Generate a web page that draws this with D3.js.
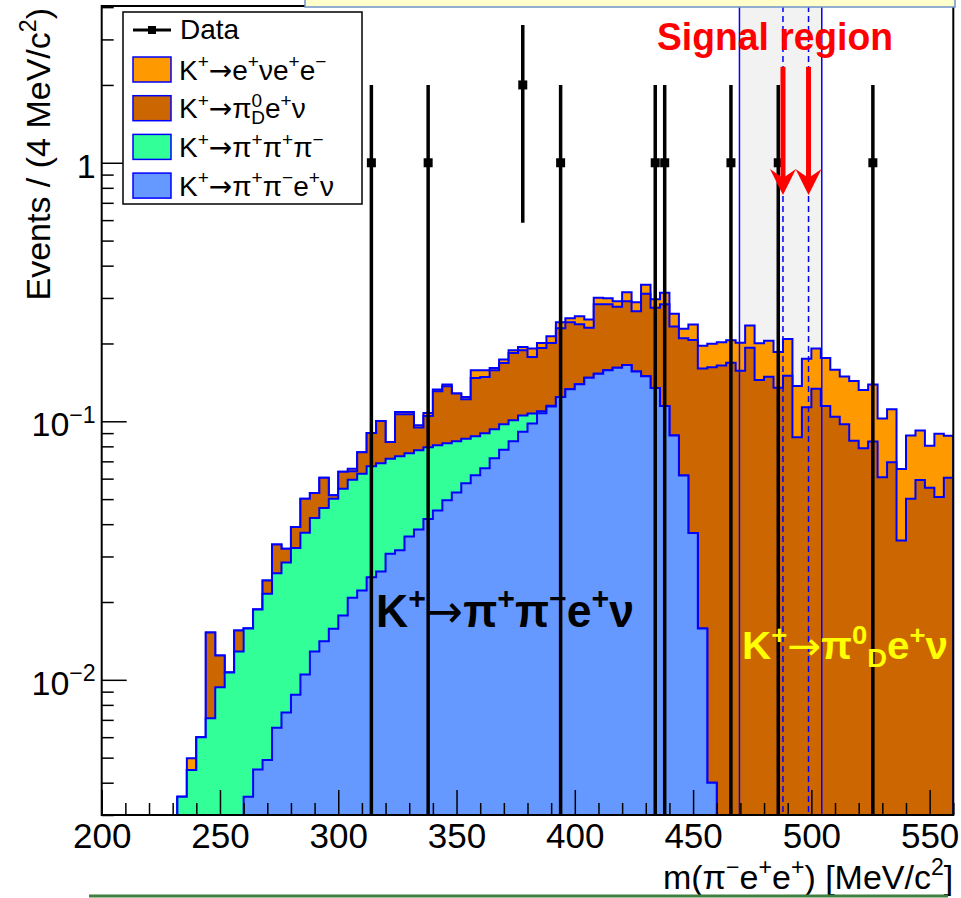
<!DOCTYPE html>
<html>
<head>
<meta charset="utf-8">
<script src="https://cdnjs.cloudflare.com/ajax/libs/d3/7.8.5/d3.min.js"></script>
<style>
  body { margin: 0; background: #fff; }
  svg { display: block; }
</style>
</head>
<body>
<script>
// binning of the stacked MC histograms (4 MeV/c2 bins)
const binStart = 232,
  binWidth = 4;
const binLo = d3.range(82).map((i) => binStart + i * binWidth);

// K+ -> pi+ pi- e+ nu
const seriesPiPiENu = [
  0, 0, 0, 0, 0, 0, 0,
  0.00353, 0.0045, 0.0049, 0.00652, 0.00747, 0.00875, 0.01048, 0.01287,
  0.01411, 0.01576, 0.01774, 0.02078, 0.02217, 0.02495, 0.02626, 0.03074,
  0.03168, 0.03587, 0.03818, 0.04193, 0.04522, 0.04945, 0.05309, 0.05754,
  0.06178, 0.06577, 0.07192, 0.07755, 0.08366, 0.09107, 0.09806, 0.1074, 0.1141,
  0.1241, 0.133, 0.139, 0.1474, 0.1527, 0.1575, 0.1611, 0.1651, 0.1557,
  0.1494, 0.1344, 0.1146, 0.0881, 0.0617, 0.037, 0.0158, 0.004,
  0, 0, 0, 0, 0, 0, 0, 0, 0, 0, 0, 0, 0, 0, 0, 0, 0, 0, 0, 0, 0, 0, 0, 0, 0,
];
// K+ -> pi+ pi+ pi-
const seriesK3Pi = [
  0.00353, 0.00448, 0.006, 0.0071, 0.00936, 0.01067, 0.01287,
  0.01227, 0.01422, 0.01663, 0.01934, 0.02098, 0.02357, 0.0266, 0.02936,
  0.03206, 0.03444, 0.03713, 0.03869, 0.04055, 0.04199, 0.04251, 0.04097,
  0.04151, 0.0393, 0.03902, 0.03735, 0.03549, 0.03272, 0.03057, 0.02799,
  0.02568, 0.02409, 0.02119, 0.01981, 0.01724, 0.01413, 0.00904, 0.0019, 0.0008,
  0, 0, 0, 0, 0, 0, 0, 0, 0, 0, 0, 0, 0, 0, 0, 0, 0,
  0, 0, 0, 0, 0, 0, 0, 0, 0, 0, 0, 0, 0, 0, 0, 0, 0, 0, 0, 0, 0, 0, 0, 0, 0,
];
// K+ -> pi0_D e+ nu
const seriesPi0D = [
  0, 0, 0, 0.00814, 0.00306, 0, 0.00265,
  0, 0, 0.00271, 0.00755, 0.0037, 0.00666, 0.01312, 0.01055,
  0.01436, 0.0015, 0.00899, 0.00455, 0.01314, 0.02317, 0.03153, 0.01147,
  0.03321, 0.03123, 0.01734, 0.02552, 0.04989, 0.05443, 0.04434, 0.03617,
  0.05964, 0.05854, 0.06439, 0.07074, 0.0829, 0.0831, 0.0703, 0.0826, 0.0861,
  0.105, 0.1086, 0.0984, 0.0827, 0.1311, 0.1263, 0.1164, 0.1264, 0.1109,
  0.1619, 0.1407, 0.169, 0.1445, 0.1479, 0.1694, 0.1444, 0.1578,
  0.1643, 0.1683, 0.157, 0.1924, 0.1445, 0.1486, 0.1348, 0.1499, 0.0867,
  0.1133, 0.1336, 0.1147, 0.1041, 0.0974, 0.0841, 0.0787, 0.0836, 0.0607,
  0.0694, 0.0346, 0.0502, 0.0593, 0.0553, 0.0509, 0.0605,
];
// K+ -> e+ nu e+ e-
const seriesENuEE = [
  0, 0.00049, 0, 0, 0, 0, 0,
  0, 0, 0, 0, 0, 0, 0, 0, 0, 0, 0, 0.00157, 0, 0, 0, 0,
  0.0022, 0.0022, 0.00196, 0.0029, 0.0021, 0.0021, 0, 0.0025,
  0.0104, 0.0091, 0.0033, 0.0052, 0.0045, 0.0056, 0.0137, 0.0089, 0.0123,
  0.0125, 0.0088, 0.0176, 0.0174, 0.0169, 0.0156, 0.014, 0.0243, 0.0223,
  0.0264, 0.0216, 0.0306, 0.0281, 0.0183, 0.0302, 0.0358, 0.0377,
  0.0377, 0.0374, 0.0443, 0.0421, 0.0557, 0.0565, 0.0507, 0.0584, 0.0501,
  0.0613, 0.0575, 0.061, 0.0543, 0.0517, 0.0591, 0.0533, 0.0553, 0.0418,
  0.0419, 0.0308, 0.0379, 0.0329, 0.0251, 0.0385, 0.0275,
];

// observed events
const dataMass = [314, 338, 378, 394, 434, 438, 466, 486, 526];
const dataCounts = [1, 1, 2, 1, 1, 1, 1, 1, 1];

// regions
const bandEdges = [469.6, 504.4];
const signalEdges = [488, 498.8];
const arrowTop = 2.35,
  arrowTip = 0.75;

// ticks
const xMajor = [200, 250, 300, 350, 400, 450, 500, 550];
const xMinor = d3.range(200, 561, 10).filter((v) => v % 50 !== 0);
const yMajor = [0.01, 0.1, 1];
const yMinor = [
  0.003, 0.004, 0.005, 0.006, 0.007, 0.008, 0.009,
  0.02, 0.03, 0.04, 0.05, 0.06, 0.07, 0.08, 0.09,
  0.2, 0.3, 0.4, 0.5, 0.6, 0.7, 0.8, 0.9, 2, 3, 4,
];

const keys = ["ppenu", "k3pi", "pi0d", "enee"];
const fills = { ppenu: "#6699ff", k3pi: "#33ff99", pi0d: "#cc6600", enee: "#ff9900" };
const outline = "#0000ff";

const width = 961,
  height = 898;

const x = d3.scaleLinear().domain([200, 560]).range([101.7, 953.3]);
const y = d3.scaleLog().domain([0.003, 4.04]).range([815, 6]);
const yb = y.range()[0];
const yc = (v) => (v > 0 ? y(v) : yb + 10);

const svg = d3
  .select("body")
  .append("svg")
  .attr("width", width)
  .attr("height", height)
  .style("font-family", "'Liberation Sans', Arial, Helvetica, sans-serif");

svg
  .append("clipPath")
  .attr("id", "plot")
  .append("rect")
  .attr("x", x.range()[0])
  .attr("y", y.range()[1])
  .attr("width", x.range()[1] - x.range()[0])
  .attr("height", yb - y.range()[1]);

// text with super/subscripts; "arr" parts get a wider arrow glyph
function rich(sel, parts, size) {
  let cur = 0;
  parts.forEach((p) => {
    const mode = p[1] || "";
    const t = mode === "sup" ? -0.4 * size : mode === "sub" ? 0.22 * size : 0;
    const ts = sel.append("tspan").text(p[0]).attr("dy", t - cur);
    if (mode === "sup" || mode === "sub") ts.attr("font-size", 0.68 * size);
    if (mode === "arr") ts.style("font-family", "'DejaVu Sans', sans-serif").attr("font-weight", "normal");
    if (p[2]) ts.attr("dx", p[2]);
    cur = t;
  });
  return sel;
}

// signal region band
svg
  .append("rect")
  .attr("x", x(bandEdges[0]))
  .attr("y", y.range()[1])
  .attr("width", x(bandEdges[1]) - x(bandEdges[0]))
  .attr("height", yb - y.range()[1])
  .attr("fill", "#f2f2f2");

// stacked histograms, drawn ROOT-like from the top sum down
const table = binLo.map((lo, i) => ({
  lo: lo,
  ppenu: seriesPiPiENu[i],
  k3pi: seriesK3Pi[i],
  pi0d: seriesPi0D[i],
  enee: seriesENuEE[i],
}));
const stacked = d3.stack().keys(keys)(table);

const hg = svg.append("g").attr("clip-path", "url(#plot)");
const area = d3
  .area()
  .curve(d3.curveStepAfter)
  .x((p) => p[0])
  .y0(yb + 10)
  .y1((p) => p[1]);
const line = d3.line().curve(d3.curveStepAfter);

stacked
  .slice()
  .reverse()
  .forEach((s) => {
    const tops = s.map((d) => d[1]);
    const idx = d3.range(tops.length).filter((i) => tops[i] > 1e-9);
    const first = idx[0],
      last = idx[idx.length - 1];
    const seg = d3.range(first, last + 1).map((i) => [x(binLo[i]), yc(tops[i])]);
    seg.push([x(binLo[last] + binWidth), yc(tops[last])]);
    hg.append("path").attr("d", area(seg)).attr("fill", fills[s.key]);
    const pts = [[seg[0][0], yb + 10]].concat(seg, [[seg[seg.length - 1][0], yb + 10]]);
    hg.append("path")
      .attr("d", line(pts))
      .attr("fill", "none")
      .attr("stroke", outline)
      .attr("stroke-width", 2);
  });

// region lines
svg
  .selectAll(".band")
  .data(bandEdges)
  .enter()
  .append("line")
  .attr("x1", (d) => x(d))
  .attr("x2", (d) => x(d))
  .attr("y1", y.range()[1])
  .attr("y2", yb)
  .attr("stroke", outline)
  .attr("stroke-width", 1.5);
svg
  .selectAll(".sig")
  .data(signalEdges)
  .enter()
  .append("line")
  .attr("x1", (d) => x(d))
  .attr("x2", (d) => x(d))
  .attr("y1", y.range()[1])
  .attr("y2", yb)
  .attr("stroke", outline)
  .attr("stroke-width", 1.5)
  .attr("stroke-dasharray", "6,4");

// data points with sqrt(N) errors
const dg = svg.append("g").attr("clip-path", "url(#plot)");
dataMass.forEach((m, i) => {
  const n = dataCounts[i],
    e = Math.sqrt(n);
  dg.append("line")
    .attr("x1", x(m))
    .attr("x2", x(m))
    .attr("y1", yc(n + e))
    .attr("y2", yc(n - e))
    .attr("stroke", "#000")
    .attr("stroke-width", 3.5);
  dg.append("rect")
    .attr("x", x(m) - 4.5)
    .attr("y", y(n) - 4.5)
    .attr("width", 9)
    .attr("height", 9)
    .attr("fill", "#000");
});

// axes
const gx = svg.append("g").attr("transform", `translate(0,${yb})`);
gx.call(d3.axisBottom(x).tickValues(xMajor).tickSize(-25).tickPadding(8).tickFormat(d3.format("d")));
gx.append("g").call(d3.axisBottom(x).tickValues(xMinor).tickSize(-12).tickFormat(""));
gx.selectAll(".domain").remove();
gx.selectAll("line").attr("stroke", "#000").attr("stroke-width", 1.5);
gx.selectAll("text").attr("font-size", 35).attr("fill", "#000").style("font-family", "'Liberation Sans', Arial, sans-serif");

const gy = svg.append("g").attr("transform", `translate(${x.range()[0]},0)`);
gy.call(d3.axisLeft(y).tickValues(yMajor).tickSize(-25).tickFormat(""));
gy.append("g").call(d3.axisLeft(y).tickValues(yMinor).tickSize(-12).tickFormat(""));
gy.selectAll(".domain").remove();
gy.selectAll("line").attr("stroke", "#000").attr("stroke-width", 1.5);

yMajor.forEach((v) => {
  const t = svg
    .append("text")
    .attr("x", x.range()[0] - 6)
    .attr("y", y(v) + 15)
    .attr("text-anchor", "end")
    .attr("font-size", 34);
  const k = Math.round(Math.log10(v));
  if (k === 0) t.text("1");
  else rich(t, [["10"], ["\u2212" + -k, "sup"]], 34);
});

svg
  .append("rect")
  .attr("x", x.range()[0])
  .attr("y", y.range()[1])
  .attr("width", x.range()[1] - x.range()[0])
  .attr("height", yb - y.range()[1])
  .attr("fill", "none")
  .attr("stroke", "#000")
  .attr("stroke-width", 2);

// axis titles
rich(
  svg.append("text").attr("x", x.range()[1]).attr("y", 889).attr("text-anchor", "end").attr("font-size", 34),
  [["m(\u03c0"], ["\u2212", "sup"], ["e"], ["+", "sup"], ["e"], ["+", "sup"], [") [MeV/c"], ["2", "sup"], ["]"]],
  34
);
rich(
  svg
    .append("text")
    .attr("transform", "translate(50,8) rotate(-90)")
    .attr("text-anchor", "end")
    .attr("font-size", 34),
  [["Events / (4 MeV/c"], ["2", "sup"], [")"]],
  34
);

// legend
const lg = svg.append("g");
lg.append("rect")
  .attr("x", 123)
  .attr("y", 12)
  .attr("width", 239)
  .attr("height", 192)
  .attr("fill", "#fff")
  .attr("stroke", "#000")
  .attr("stroke-width", 1.5);
lg.append("line").attr("x1", 133).attr("x2", 171).attr("y1", 30).attr("y2", 30).attr("stroke", "#000").attr("stroke-width", 3);
lg.append("rect").attr("x", 148).attr("y", 26).attr("width", 8).attr("height", 8).attr("fill", "#000");
lg.append("text").attr("x", 180).attr("y", 39).attr("font-size", 28).text("Data");

const legendRows = [
  { key: "enee", parts: [["K"], ["+", "sup"], ["\u2192", "arr"], ["e"], ["+", "sup"], ["\u03bde"], ["+", "sup"], ["e"], ["\u2212", "sup"]] },
  { key: "pi0d", parts: [["K"], ["+", "sup"], ["\u2192", "arr"], ["\u03c0"], ["0", "sup"], ["D", "sub", -11], ["e"], ["+", "sup"], ["\u03bd"]] },
  { key: "k3pi", parts: [["K"], ["+", "sup"], ["\u2192", "arr"], ["\u03c0"], ["+", "sup"], ["\u03c0"], ["+", "sup"], ["\u03c0"], ["\u2212", "sup"]] },
  { key: "ppenu", parts: [["K"], ["+", "sup"], ["\u2192", "arr"], ["\u03c0"], ["+", "sup"], ["\u03c0"], ["\u2212", "sup"], ["e"], ["+", "sup"], ["\u03bd"]] },
];
legendRows.forEach((r, i) => {
  const cy = 69.5 + i * 38.7;
  lg.append("rect")
    .attr("x", 133)
    .attr("y", cy - 12.5)
    .attr("width", 38)
    .attr("height", 25)
    .attr("fill", fills[r.key])
    .attr("stroke", outline)
    .attr("stroke-width", 1.5);
  rich(lg.append("text").attr("x", 179).attr("y", cy + 10).attr("font-size", 28), r.parts, 28);
});

// annotations
rich(
  svg
    .append("text")
    .attr("x", 376)
    .attr("y", 627)
    .attr("font-size", 46)
    .attr("font-weight", "bold")
    .attr("textLength", 258)
    .attr("lengthAdjust", "spacingAndGlyphs"),
  [["K"], ["+", "sup"], ["\u2192", "arr"], ["\u03c0"], ["+", "sup"], ["\u03c0"], ["\u2212", "sup"], ["e"], ["+", "sup"], ["\u03bd"]],
  46
);
rich(
  svg
    .append("text")
    .attr("x", 742)
    .attr("y", 659)
    .attr("font-size", 38)
    .attr("font-weight", "bold")
    .attr("fill", "#ffff00")
    .attr("textLength", 206)
    .attr("lengthAdjust", "spacingAndGlyphs"),
  [["K"], ["+", "sup"], ["\u2192", "arr"], ["\u03c0"], ["0", "sup"], ["D", "sub"], ["e"], ["+", "sup"], ["\u03bd"]],
  38
);

svg
  .append("text")
  .attr("x", 657)
  .attr("y", 50)
  .attr("font-size", 38)
  .attr("font-weight", "bold")
  .attr("fill", "#ff0000")
  .attr("textLength", 236)
  .attr("lengthAdjust", "spacingAndGlyphs")
  .text("Signal region");

signalEdges.forEach((v) => {
  const sx = x(v),
    tip = y(arrowTip);
  svg
    .append("line")
    .attr("x1", sx)
    .attr("x2", sx)
    .attr("y1", y(arrowTop))
    .attr("y2", tip - 12)
    .attr("stroke", "#ff0000")
    .attr("stroke-width", 5);
  svg
    .append("path")
    .attr("d", `M${sx},${tip} L${sx - 13},${tip - 26} L${sx},${tip - 17} L${sx + 13},${tip - 26} Z`)
    .attr("fill", "#ff0000");
});

// slide decorations
svg
  .append("rect")
  .attr("x", 305)
  .attr("y", -3)
  .attr("width", 650)
  .attr("height", 10)
  .attr("fill", "#ffffcc")
  .attr("stroke", "#6f94c9")
  .attr("stroke-width", 1.5);
svg
  .append("line")
  .attr("x1", 89)
  .attr("x2", 948)
  .attr("y1", 896)
  .attr("y2", 896)
  .attr("stroke", "#3f7f3f")
  .attr("stroke-width", 3);
</script>
</body>
</html>
